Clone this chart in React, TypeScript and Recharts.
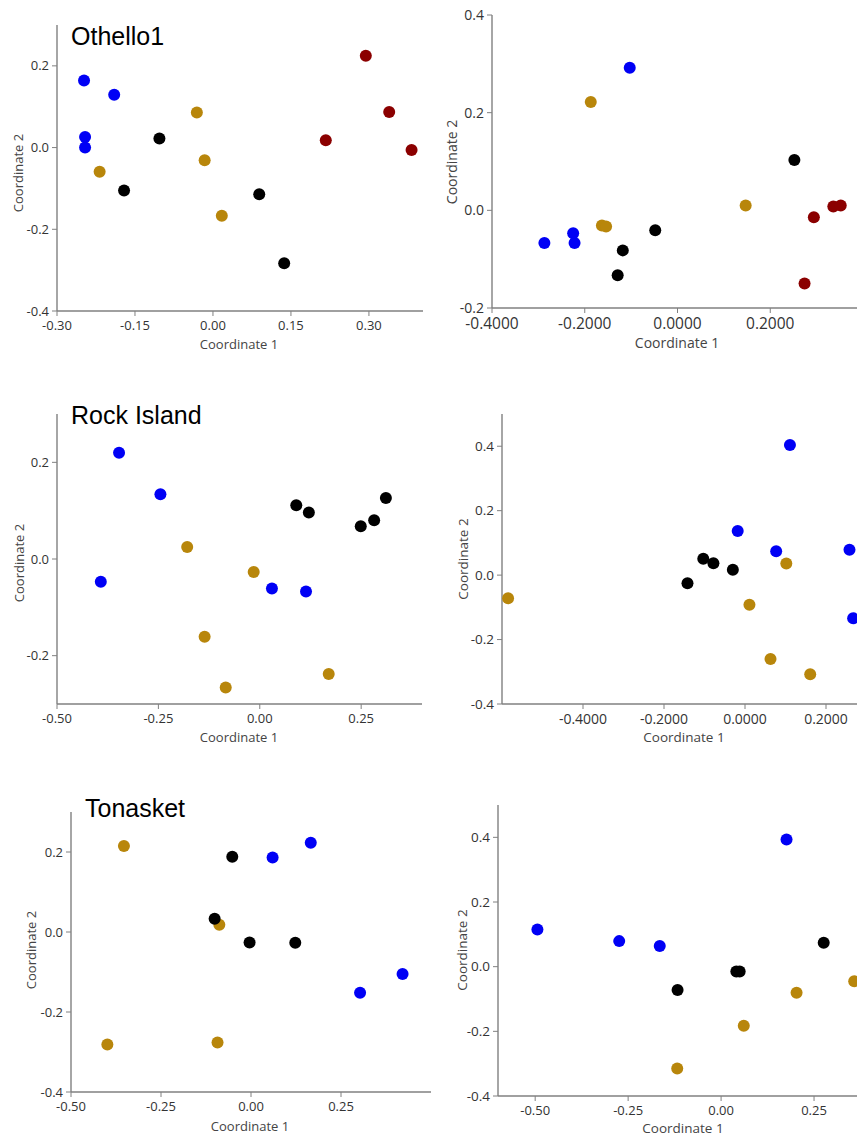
import React from 'react';
import { ScatterChart, Scatter, XAxis, YAxis } from 'recharts';

// Othello1, first ordination
const othelloA_blue = [
  { x: -0.248, y: 0.164 }, { x: -0.19, y: 0.129 }, { x: -0.246, y: 0.026 }, { x: -0.246, y: 0.0 },
];
const othelloA_gold = [
  { x: -0.031, y: 0.086 }, { x: -0.016, y: -0.031 }, { x: -0.218, y: -0.059 }, { x: 0.017, y: -0.167 },
];
const othelloA_black = [
  { x: -0.103, y: 0.022 }, { x: -0.171, y: -0.105 }, { x: 0.089, y: -0.114 }, { x: 0.137, y: -0.283 },
];
const othelloA_red = [
  { x: 0.294, y: 0.225 }, { x: 0.339, y: 0.087 }, { x: 0.217, y: 0.018 }, { x: 0.382, y: -0.006 },
];

// Othello1, second ordination
const othelloB_blue = [
  { x: -0.103, y: 0.292 }, { x: -0.287, y: -0.067 }, { x: -0.225, y: -0.047 }, { x: -0.222, y: -0.067 },
];
const othelloB_gold = [
  { x: -0.187, y: 0.222 }, { x: -0.163, y: -0.031 }, { x: -0.154, y: -0.033 }, { x: 0.147, y: 0.01 },
];
const othelloB_black = [
  { x: 0.252, y: 0.103 }, { x: -0.048, y: -0.041 }, { x: -0.118, y: -0.082 }, { x: -0.129, y: -0.133 },
];
const othelloB_red = [
  { x: 0.294, y: -0.014 }, { x: 0.336, y: 0.008 }, { x: 0.352, y: 0.01 }, { x: 0.274, y: -0.15 },
];

// Rock Island
const rockA_blue = [
  { x: -0.347, y: 0.22 }, { x: -0.245, y: 0.134 }, { x: -0.392, y: -0.047 }, { x: 0.03, y: -0.061 }, { x: 0.114, y: -0.067 },
];
const rockA_gold = [
  { x: -0.179, y: 0.025 }, { x: -0.015, y: -0.027 }, { x: -0.136, y: -0.161 }, { x: -0.084, y: -0.266 }, { x: 0.17, y: -0.238 },
];
const rockA_black = [
  { x: 0.09, y: 0.111 }, { x: 0.121, y: 0.096 }, { x: 0.249, y: 0.068 }, { x: 0.282, y: 0.08 }, { x: 0.311, y: 0.126 },
];

const rockB_blue = [
  { x: 0.111, y: 0.404 }, { x: -0.018, y: 0.137 }, { x: 0.077, y: 0.074 }, { x: 0.258, y: 0.079 }, { x: 0.267, y: -0.134 },
];
const rockB_gold = [
  { x: -0.585, y: -0.072 }, { x: 0.102, y: 0.036 }, { x: 0.011, y: -0.092 }, { x: 0.063, y: -0.26 }, { x: 0.161, y: -0.308 },
];
const rockB_black = [
  { x: -0.142, y: -0.025 }, { x: -0.103, y: 0.051 }, { x: -0.078, y: 0.037 }, { x: -0.03, y: 0.017 },
];

// Tonasket
const tonA_gold = [
  { x: -0.353, y: 0.215 }, { x: -0.399, y: -0.281 }, { x: -0.093, y: -0.276 }, { x: -0.088, y: 0.018 },
];
const tonA_black = [
  { x: -0.052, y: 0.188 }, { x: -0.101, y: 0.033 }, { x: -0.004, y: -0.026 }, { x: 0.123, y: -0.027 },
];
const tonA_blue = [
  { x: 0.06, y: 0.186 }, { x: 0.166, y: 0.223 }, { x: 0.303, y: -0.152 }, { x: 0.421, y: -0.105 },
];

const tonB_blue = [
  { x: -0.494, y: 0.115 }, { x: -0.274, y: 0.079 }, { x: -0.165, y: 0.064 }, { x: 0.176, y: 0.393 },
];
const tonB_black = [
  { x: -0.117, y: -0.072 }, { x: 0.041, y: -0.015 }, { x: 0.05, y: -0.015 }, { x: 0.276, y: 0.074 },
];
const tonB_gold = [
  { x: 0.061, y: -0.183 }, { x: -0.118, y: -0.315 }, { x: 0.203, y: -0.081 }, { x: 0.358, y: -0.045 },
];

const BLUE = '#0000f5';
const GOLD = '#b8860b';
const BLACK = '#000000';
const RED = '#8b0000';

const axisColor = '#808080';
const font = '"Open Sans", sans-serif';

type Group = { data: { x: number; y: number }[]; color: string };

type PanelProps = {
  left: number; top: number; right: number; bottom: number;
  xDomain: [number, number]; yDomain: [number, number];
  xTicks: number[]; yTicks: number[]; xDigits: number;
  xFont?: number; yFont?: number; labelFont?: number;
  groups: Group[];
  x1Label: [number, number]; x2Label: [number, number];
  title?: string; titlePos?: [number, number];
};

const Dot = (color: string) => (props: any) => (
  <circle cx={props.cx} cy={props.cy} r={6} fill={color} />
);

const Panel = (p: PanelProps) => {
  const w = p.right - p.left;
  const h = p.bottom - p.top;
  const lf = p.labelFont ?? 13;
  const labelStyle: React.CSSProperties = {
    position: 'absolute', fontSize: lf, fontFamily: font, color: '#444',
    whiteSpace: 'nowrap', lineHeight: '16px',
  };
  return (
    <>
      <div style={{ position: 'absolute', left: p.left - 60, top: p.top - 10 }}>
        <ScatterChart width={w + 70} height={h + 60} margin={{ top: 10, right: 10, bottom: 0, left: 0 }}>
          <XAxis
            type="number" dataKey="x" domain={p.xDomain} ticks={p.xTicks} allowDataOverflow
            height={50} tickSize={5} tickMargin={5}
            axisLine={{ stroke: axisColor, strokeWidth: 1.4 }} tickLine={{ stroke: axisColor }}
            tick={{ fill: '#333', fontSize: p.xFont ?? 13, fontFamily: font }}
            tickFormatter={(v: number) => v.toFixed(p.xDigits)} interval={0}
          />
          <YAxis
            type="number" dataKey="y" domain={p.yDomain} ticks={p.yTicks} allowDataOverflow
            width={60} tickSize={5} tickMargin={3}
            axisLine={{ stroke: axisColor, strokeWidth: 1.4 }} tickLine={{ stroke: axisColor }}
            tick={{ fill: '#333', fontSize: p.yFont ?? 13, fontFamily: font }}
            tickFormatter={(v: number) => v.toFixed(1)} interval={0}
          />
          {p.groups.map((g, i) => (
            <Scatter key={i} data={g.data} fill={g.color} shape={Dot(g.color)} isAnimationActive={false} />
          ))}
        </ScatterChart>
      </div>
      {p.title && p.titlePos && (
        <div style={{
          position: 'absolute', left: p.titlePos[0], top: p.titlePos[1],
          fontFamily: '"Liberation Sans", Arial, sans-serif', fontSize: 25, color: '#000', lineHeight: '28px',
        }}>{p.title}</div>
      )}
      <div style={{ ...labelStyle, left: p.x1Label[0], top: p.x1Label[1] - 8, transform: 'translateX(-50%)' }}>
        Coordinate 1
      </div>
      <div style={{
        ...labelStyle, left: p.x2Label[0], top: p.x2Label[1],
        transform: 'translate(-50%, -50%) rotate(-90deg)',
      }}>
        Coordinate 2
      </div>
    </>
  );
};

export default function App() {
  return (
    <div style={{ position: 'absolute', left: 0, top: 0, width: 857, height: 1137, overflow: 'hidden', background: '#fff' }}>
      <Panel
        left={57} top={25} right={423} bottom={311}
        xDomain={[-0.3, 0.404]} yDomain={[-0.4, 0.3]}
        xTicks={[-0.3, -0.15, 0, 0.15, 0.3]} yTicks={[-0.4, -0.2, 0, 0.2]} xDigits={2}
        groups={[
          { data: othelloA_blue, color: BLUE }, { data: othelloA_gold, color: GOLD },
          { data: othelloA_black, color: BLACK }, { data: othelloA_red, color: RED },
        ]}
        x1Label={[239, 344]} x2Label={[18, 173]}
        title="Othello1" titlePos={[71, 22]}
      />
      <Panel
        left={492} top={15} right={863} bottom={308}
        xDomain={[-0.4, 0.4]} yDomain={[-0.2, 0.4]}
        xTicks={[-0.4, -0.2, 0, 0.2]} yTicks={[-0.2, 0, 0.2, 0.4]} xDigits={4}
        xFont={15.5} yFont={14} labelFont={14}
        groups={[
          { data: othelloB_blue, color: BLUE }, { data: othelloB_gold, color: GOLD },
          { data: othelloB_black, color: BLACK }, { data: othelloB_red, color: RED },
        ]}
        x1Label={[677, 343]} x2Label={[452, 162]}
      />
      <Panel
        left={57} top={414} right={422} bottom={704}
        xDomain={[-0.5, 0.4]} yDomain={[-0.3, 0.3]}
        xTicks={[-0.5, -0.25, 0, 0.25]} yTicks={[-0.2, 0, 0.2]} xDigits={2}
        groups={[
          { data: rockA_blue, color: BLUE }, { data: rockA_gold, color: GOLD }, { data: rockA_black, color: BLACK },
        ]}
        x1Label={[239, 737]} x2Label={[19, 563]}
        title="Rock Island" titlePos={[71, 401]}
      />
      <Panel
        left={502} top={414} right={907} bottom={704}
        xDomain={[-0.6, 0.4]} yDomain={[-0.4, 0.5]}
        xTicks={[-0.4, -0.2, 0, 0.2]} yTicks={[-0.4, -0.2, 0, 0.2, 0.4]} xDigits={4}
        xFont={14} yFont={13.5} labelFont={13.5}
        groups={[
          { data: rockB_blue, color: BLUE }, { data: rockB_gold, color: GOLD }, { data: rockB_black, color: BLACK },
        ]}
        x1Label={[684, 737]} x2Label={[463, 559]}
      />
      <Panel
        left={71} top={812} right={431} bottom={1092}
        xDomain={[-0.5, 0.5]} yDomain={[-0.4, 0.3]}
        xTicks={[-0.5, -0.25, 0, 0.25]} yTicks={[-0.4, -0.2, 0, 0.2]} xDigits={2}
        groups={[
          { data: tonA_gold, color: GOLD }, { data: tonA_black, color: BLACK }, { data: tonA_blue, color: BLUE },
        ]}
        x1Label={[250, 1126]} x2Label={[31, 950]}
        title="Tonasket" titlePos={[85, 794]}
      />
      <Panel
        left={498} top={805} right={907} bottom={1096}
        xDomain={[-0.6, 0.5]} yDomain={[-0.4, 0.5]}
        xTicks={[-0.5, -0.25, 0, 0.25]} yTicks={[-0.4, -0.2, 0, 0.2, 0.4]} xDigits={2}
        yFont={13.5} labelFont={13.5}
        groups={[
          { data: tonB_blue, color: BLUE }, { data: tonB_black, color: BLACK }, { data: tonB_gold, color: GOLD },
        ]}
        x1Label={[683, 1128]} x2Label={[462, 950]}
      />
    </div>
  );
}
